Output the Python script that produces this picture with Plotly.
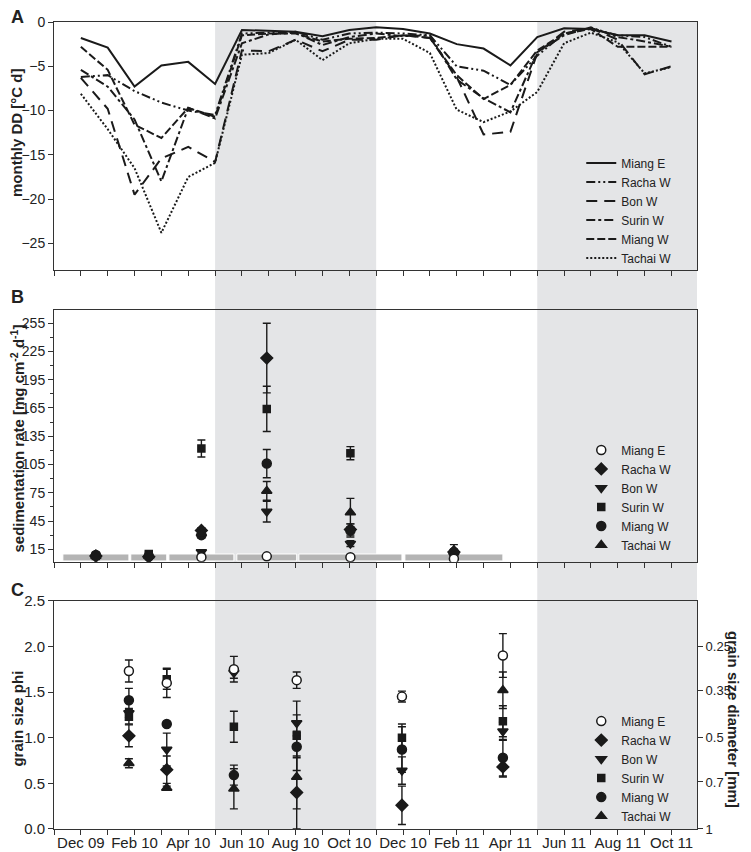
import plotly.graph_objects as go

FONT = "Liberation Sans, Arial, Helvetica, sans-serif"
INK = "#1a1a1a"
AXIS = "#333333"
SHADE = "#e4e5e7"
BAR = "#b4b4b4"

# ---------------- data ----------------
month_labels = ["Dec 09", "Jan 10", "Feb 10", "Mar 10", "Apr 10", "May 10", "Jun 10",
                "Jul 10", "Aug 10", "Sep 10", "Oct 10", "Nov 10", "Dec 10", "Jan 11",
                "Feb 11", "Mar 11", "Apr 11", "May 11", "Jun 11", "Jul 11", "Aug 11",
                "Sep 11", "Oct 11"]
month_idx = list(range(len(month_labels)))
sites = ["Miang E", "Racha W", "Bon W", "Surin W", "Miang W", "Tachai W"]

# Panel A: monthly degree days [°C d]
dd_miang_e = [-1.8, -2.9, -7.3, -4.9, -4.5, -7.0, -0.9, -1.0, -1.1, -1.6, -0.9, -0.6,
              -0.8, -1.3, -2.5, -3.0, -4.9, -1.7, -0.7, -0.8, -1.5, -1.5, -2.2]
dd_racha_w = [-6.2, -6.0, -7.8, -9.1, -10.0, -10.5, -1.3, -1.2, -1.1, -2.0, -1.3, -1.2,
              -1.3, -1.5, -5.0, -5.5, -7.1, -3.8, -1.3, -0.7, -1.5, -1.7, -2.8]
dd_bon_w = [-6.3, -9.8, -19.5, -15.4, -14.1, -15.8, -3.2, -3.3, -2.0, -3.3, -2.0, -2.0,
            -1.5, -1.8, -6.2, -12.7, -12.4, -3.5, -1.1, -0.7, -2.0, -5.9, -5.0]
dd_surin_w = [-5.4, -7.3, -11.0, -18.0, -9.7, -10.9, -2.4, -1.4, -1.2, -2.6, -1.7, -1.3,
              -1.6, -1.5, -6.5, -8.6, -10.2, -3.4, -1.5, -0.6, -1.7, -2.2, -2.8]
dd_miang_w = [-2.8, -5.4, -11.6, -13.1, -9.7, -10.7, -1.5, -1.3, -1.3, -2.2, -1.9, -1.8,
              -1.5, -1.8, -6.0, -8.7, -7.1, -3.2, -1.3, -0.8, -2.8, -2.8, -2.8]
dd_tachai_w = [-8.1, -12.1, -16.5, -23.8, -17.5, -15.9, -3.7, -3.5, -2.0, -4.3, -2.4, -1.9,
               -1.9, -3.5, -9.9, -11.3, -10.1, -7.9, -2.4, -1.2, -2.3, -5.8, -5.1]

# Trap deployment periods (month index, Dec 09 = 0)
deploy_start = [-0.67, 1.86, 3.28, 5.81, 8.12, 12.07]
deploy_end = [1.79, 3.20, 5.70, 8.04, 11.96, 15.72]

# Panel B: sedimentation rate [mg cm-2 d-1], plotted at deployment midpoints
sed_miang_e = [None, None, 6.5, 7.5, 6.5, 5.0]
sed_miang_e_err = [0, 0, 0, 0, 0, 0]
sed_racha_w = [8, 7, 35, 218, 36, 12]
sed_racha_w_err = [1, 1, 3, 37, 6, 2]
sed_bon_w = [6, 5, 12, 55, 21, 8]
sed_bon_w_err = [1, 1, 2, 11, 3, 2]
sed_surin_w = [8, 10, 122, 164, 117, 10]
sed_surin_w_err = [1, 2, 9, 24, 7, 2]
sed_miang_w = [9, 8, 30, 106, 35, 12]
sed_miang_w_err = [1, 1, 3, 15, 7, 3]
sed_tachai_w = [8, 8, 32, 77, 54, 14]
sed_tachai_w_err = [1, 1, 3, 10, 15, 6]

# Panel C: grain size phi, plotted at the end of each deployment
gr_miang_e = [1.73, 1.60, 1.75, 1.63, 1.45, 1.90]
gr_miang_e_err = [0.12, 0.16, 0.14, 0.09, 0.06, 0.24]
gr_racha_w = [1.02, 0.65, None, 0.40, 0.26, 0.68]
gr_racha_w_err = [0.12, 0.15, None, 0.40, 0.21, 0.11]
gr_bon_w = [1.27, 0.87, 1.71, 1.16, 0.64, 1.07]
gr_bon_w_err = [0.05, 0.18, 0.06, 0.09, 0.15, 0.10]
gr_surin_w = [1.23, 1.64, 1.12, 1.02, 1.00, 1.18]
gr_surin_w_err = [0.08, 0.11, 0.17, 0.38, 0.15, 0.17]
gr_miang_w = [1.41, 1.15, 0.59, 0.90, 0.87, 0.78]
gr_miang_w_err = [0.13, 0.02, 0.11, 0.12, 0.25, 0.20]
gr_tachai_w = [0.72, 0.45, 0.44, 0.57, None, 1.52]
gr_tachai_w_err = [0.05, 0.02, 0.22, 0.35, None, 0.20]

# right axis: grain diameter [mm] labels at phi = -log2(d)
diam_labels = ["0.25", "0.35", "0.5", "0.7", "1"]
diam_phi = [2.0, 1.515, 1.0, 0.515, 0.0]

# shaded seasons (month index)
season_start = [5, 17]
season_end = [11, 22.95]
x_range = [-1, 22.95]

# ---------------- figure ----------------
sed_time = [(a + b) / 2 for a, b in zip(deploy_start, deploy_end)]
grain_time = deploy_end

dd_series = [dd_miang_e, dd_racha_w, dd_bon_w, dd_surin_w, dd_miang_w, dd_tachai_w]
dashes = ["solid", "9px,3px,2px,3px,2px,3px", "11px,7px", "9px,3px,3px,3px",
          "8px,3px", "2px,2px"]
sed_series = [(sed_miang_e, sed_miang_e_err), (sed_racha_w, sed_racha_w_err),
              (sed_bon_w, sed_bon_w_err), (sed_surin_w, sed_surin_w_err),
              (sed_miang_w, sed_miang_w_err), (sed_tachai_w, sed_tachai_w_err)]
gr_series = [(gr_miang_e, gr_miang_e_err), (gr_racha_w, gr_racha_w_err),
             (gr_bon_w, gr_bon_w_err), (gr_surin_w, gr_surin_w_err),
             (gr_miang_w, gr_miang_w_err), (gr_tachai_w, gr_tachai_w_err)]
symbols = ["circle", "diamond", "triangle-down", "square", "circle", "triangle-up"]
sizes = [9, 9, 9, 7, 9, 9]

fig = go.Figure()

for i, name in enumerate(sites):
    fig.add_trace(go.Scatter(
        x=month_idx, y=dd_series[i], mode="lines", name=name,
        line=dict(color=INK, width=2, dash=dashes[i]),
        xaxis="x", yaxis="y", legend="legend", legendrank=i, showlegend=True))

# draw order: Miang E last so open circle sits on top
order = [1, 2, 3, 4, 5, 0]
for i in order:
    name = sites[i]
    fill = "white" if i == 0 else INK
    mk = dict(symbol=symbols[i], size=sizes[i], color=fill,
              line=dict(color=INK, width=1.5))
    vals, errs = sed_series[i]
    fig.add_trace(go.Scatter(
        x=sed_time, y=vals, mode="markers", name=name, marker=mk,
        error_y=dict(type="data", array=errs, visible=True, color=INK,
                     thickness=1.4, width=4),
        xaxis="x2", yaxis="y2", legend="legend2", legendrank=i))
    vals, errs = gr_series[i]
    fig.add_trace(go.Scatter(
        x=grain_time, y=vals, mode="markers", name=name, marker=mk,
        error_y=dict(type="data", array=errs, visible=True, color=INK,
                     thickness=1.4, width=4),
        xaxis="x3", yaxis="y3", legend="legend3", legendrank=i))

# invisible trace to activate the right-hand diameter axis
fig.add_trace(go.Scatter(x=[None], y=[None], xaxis="x3", yaxis="y4",
                         showlegend=False, hoverinfo="skip"))

shapes = []
for s, e in zip(season_start, season_end):
    shapes.append(dict(type="rect", xref="x", yref="paper", x0=s, x1=e, y0=0, y1=1,
                       fillcolor=SHADE, line=dict(width=0), layer="below"))
for s, e in zip(deploy_start, deploy_end):
    shapes.append(dict(type="rect", xref="x2", yref="y2", x0=s, x1=e, y0=2.6, y1=10,
                       fillcolor=BAR, line=dict(color="white", width=1), layer="below"))

major_vals = month_idx[::2]
major_text = month_labels[::2]
minor_vals = [-1] + month_idx[1::2]

common_x = dict(range=x_range, tickmode="array", tickvals=major_vals, ticktext=major_text,
                ticks="outside", ticklen=5, tickwidth=1, tickcolor=AXIS,
                minor=dict(tickvals=minor_vals, ticks="outside", ticklen=5,
                           tickwidth=1, tickcolor=AXIS),
                showline=True, linecolor=AXIS, linewidth=1, mirror=True,
                showgrid=False, zeroline=False, domain=[0, 1], automargin=False)
common_y = dict(ticks="outside", ticklen=5, tickwidth=1, tickcolor=AXIS,
                showline=True, linecolor=AXIS, linewidth=1, mirror=True,
                showgrid=False, zeroline=False, automargin=False)
title_font = dict(family=FONT, size=15, color="#222")
leg_font = dict(size=12, family=FONT, color="#222")
letter_font = dict(size=18, family=FONT, color="#222")


def side_title(text, y, x=-0.0575, angle=-90):
    return dict(text=text, x=x, y=y, xref="paper", yref="paper",
                xanchor="center", yanchor="middle", textangle=angle,
                showarrow=False, font=title_font)


# the page places the figure 8 px from the top-left corner of the window
fig.update_layout(
    width=743, height=844,
    margin=dict(l=46, r=54, t=14, b=23, autoexpand=False),
    paper_bgcolor="white", plot_bgcolor="rgba(0,0,0,0)",
    font=dict(family=FONT, color="#222"),
    shapes=shapes,
    xaxis=dict(**common_x, anchor="y", showticklabels=False),
    xaxis2=dict(**common_x, anchor="y2", showticklabels=False, matches="x"),
    xaxis3=dict(**common_x, anchor="y3", showticklabels=True, matches="x",
                ticklabelstandoff=-5,
                tickfont=dict(size=15, family=FONT, color="#222")),
    yaxis=dict(**common_y, anchor="x", domain=[0.6927, 1.0], range=[-28, 0],
               tickvals=[0, -5, -10, -15, -20, -25],
               tickfont=dict(size=14, family=FONT, color="#222")),
    yaxis2=dict(**common_y, anchor="x2", domain=[0.3312, 0.6431], range=[1.8, 269],
                tickvals=list(range(15, 256, 30)),
                minor=dict(tickvals=list(range(30, 256, 30)), ticks="outside",
                           ticklen=3, tickcolor=AXIS),
                tickfont=dict(size=14, family=FONT, color="#222")),
    yaxis3=dict(**common_y, anchor="x3", domain=[0.0, 0.2829], range=[0, 2.5],
                tickvals=[0, 0.5, 1.0, 1.5, 2.0, 2.5], tickformat=".1f",
                tickfont=dict(size=15, family=FONT, color="#222")),
    yaxis4=dict(anchor="x3", overlaying="y3", side="right", range=[0, 2.5],
                tickmode="array", tickvals=diam_phi, ticktext=diam_labels,
                ticks="outside", ticklen=5, tickcolor=AXIS, showline=False,
                showgrid=False, zeroline=False, automargin=False,
                tickfont=dict(size=13, family=FONT, color="#222")),
    legend=dict(x=0.82, y=0.6895, xanchor="left", yanchor="bottom",
                bgcolor="rgba(0,0,0,0)", font=leg_font, tracegroupgap=0),
    legend2=dict(x=0.82, y=0.334, xanchor="left", yanchor="bottom",
                 bgcolor="rgba(0,0,0,0)", font=leg_font, tracegroupgap=0),
    legend3=dict(x=0.82, y=-0.002, xanchor="left", yanchor="bottom",
                 bgcolor="rgba(0,0,0,0)", font=leg_font, tracegroupgap=0),
    annotations=[
        dict(text="<b>A</b>", x=-0.056, y=1.0062, xref="paper", yref="paper",
             xanchor="center", yanchor="middle", showarrow=False, font=letter_font),
        dict(text="<b>B</b>", x=-0.0575, y=0.659, xref="paper", yref="paper",
             xanchor="center", yanchor="middle", showarrow=False, font=letter_font),
        dict(text="<b>C</b>", x=-0.0575, y=0.296, xref="paper", yref="paper",
             xanchor="center", yanchor="middle", showarrow=False, font=letter_font),
        side_title("<b>monthly DD [°C d]</b>", 0.8625),
        side_title("<b>sedimentation rate [mg cm<sup>-2</sup> d<sup>-1</sup>]</b>", 0.4839),
        side_title("<b>grain size phi</b>", 0.1369),
        side_title("<b>grain size diameter [mm]</b>", 0.135, x=1.0575, angle=90),
    ],
)

fig.write_html("out.html")
